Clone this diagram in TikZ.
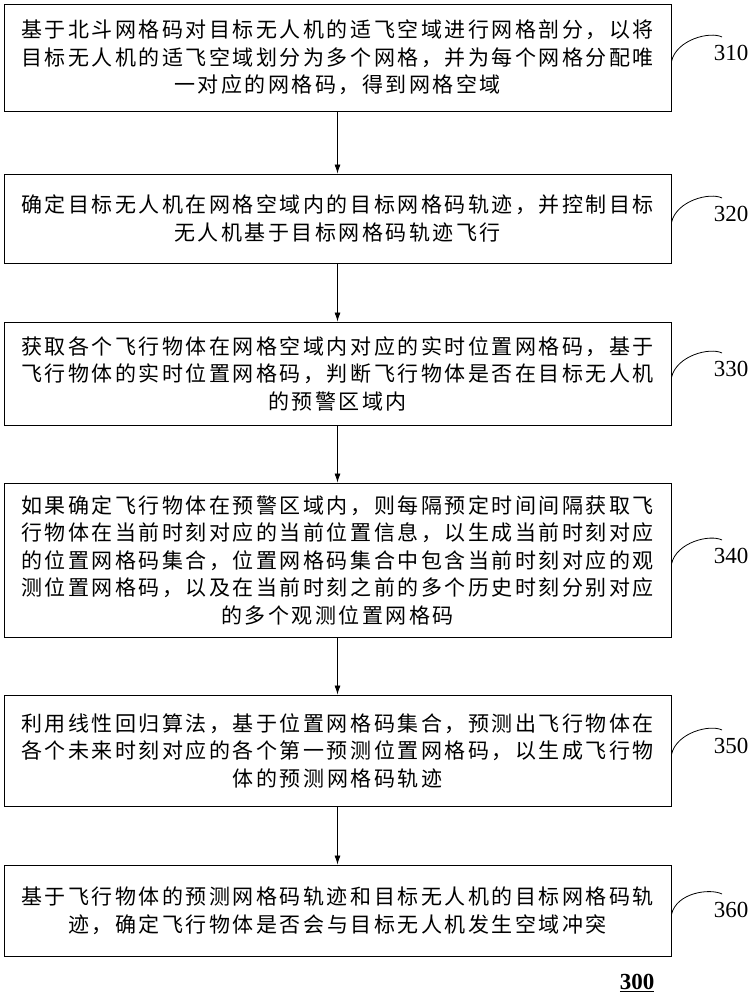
\documentclass[tikz,border=0pt]{standalone}
\usepackage{fontspec}
\setmainfont{Liberation Serif}
\newfontfamily\cjk{Noto Sans CJK SC}[LetterSpace=12]
\usetikzlibrary{arrows.meta}
\begin{document}
\begin{tikzpicture}[x=1pt,y=-1pt,
  stepbox/.style={draw, line width=0.9pt, minimum width=667pt, inner sep=0pt, align=center,
    font=\cjk\fontsize{21}{27.5}\selectfont},
  flow/.style={draw, line width=0.8pt, -{Latex[length=9pt,width=6pt]}},
  lbl/.style={font=\fontsize{23}{23}\selectfont, inner sep=0pt},
  hook/.style={draw, line width=0.8pt}]
\useasboundingbox (0,0) rectangle (751,1000);

\node[stepbox, minimum height=107pt] (b1) at (337.5,57.5) {基于北斗网格码对目标无人机的适飞空域进行网格剖分，以将\\目标无人机的适飞空域划分为多个网格，并为每个网格分配唯\\一对应的网格码，得到网格空域};
\node[stepbox, minimum height=89pt] (b2) at (337.5,218.5) {确定目标无人机在网格空域内的目标网格码轨迹，并控制目标\\无人机基于目标网格码轨迹飞行};
\node[stepbox, minimum height=103pt] (b3) at (337.5,373.5) {获取各个飞行物体在网格空域内对应的实时位置网格码，基于\\飞行物体的实时位置网格码，判断飞行物体是否在目标无人机\\的预警区域内};
\node[stepbox, minimum height=154pt] (b4) at (337.5,560) {如果确定飞行物体在预警区域内，则每隔预定时间间隔获取飞\\行物体在当前时刻对应的当前位置信息，以生成当前时刻对应\\的位置网格码集合，位置网格码集合中包含当前时刻对应的观\\测位置网格码，以及在当前时刻之前的多个历史时刻分别对应\\的多个观测位置网格码};
\node[stepbox, minimum height=111pt] (b5) at (337.5,750.5) {利用线性回归算法，基于位置网格码集合，预测出飞行物体在\\各个未来时刻对应的各个第一预测位置网格码，以生成飞行物\\体的预测网格码轨迹};
\node[stepbox, minimum height=91pt] (b6) at (337.5,910.5) {基于飞行物体的预测网格码轨迹和目标无人机的目标网格码轨\\迹，确定飞行物体是否会与目标无人机发生空域冲突};

\draw[flow] (b1.south) -- (b2.north);
\draw[flow] (b2.south) -- (b3.north);
\draw[flow] (b3.south) -- (b4.north);
\draw[flow] (b4.south) -- (b5.north);
\draw[flow] (b5.south) -- (b6.north);

\node[lbl] (l1) at (731,53) {310};
\node[lbl] (l2) at (731,214) {320};
\node[lbl] (l3) at (731,369) {330};
\node[lbl] (l4) at (731,556) {340};
\node[lbl] (l5) at (731,746) {350};
\node[lbl] (l6) at (731,910) {360};

\foreach \i in {1,...,6}{
  \coordinate (h\i) at ([shift={(-9,-16)}]l\i.center);
  \draw[hook] ([yshift=-4pt]b\i.east) .. controls +(5,-22) and +(-12,-6) .. (h\i);
}

\node[font=\bfseries\fontsize{23}{23}\selectfont, inner sep=0pt] (fig) at (637,983) {\underline{300}};
\end{tikzpicture}
\end{document}
